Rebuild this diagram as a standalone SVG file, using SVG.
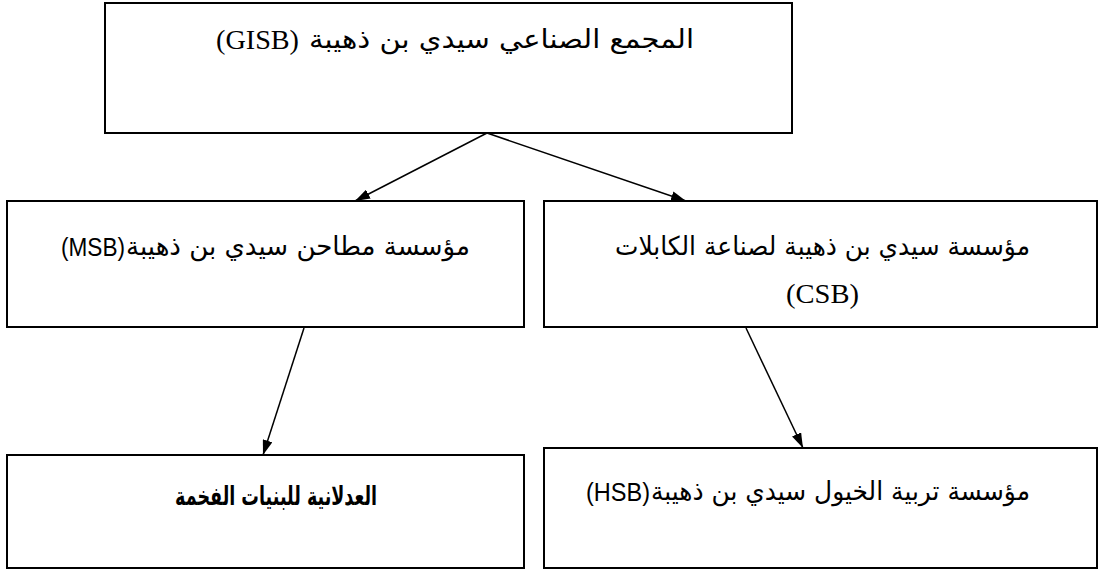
<svg xmlns="http://www.w3.org/2000/svg" width="1105" height="573" viewBox="0 0 1105 573">
<style>
.box{fill:#fff;stroke:#000;stroke-width:2}
.ar{font-family:"DejaVu Sans","Noto Sans",sans-serif;font-size:26px;fill:#000}
.ls{font-family:"Liberation Serif",serif;font-size:28px;fill:#000}
.ss{font-family:"Liberation Sans",sans-serif;font-size:25px;fill:#000}
.c{stroke:#000;stroke-width:1.5;fill:none;marker-end:url(#ah)}
</style>
<defs>
<marker id="ah" viewBox="0 0 15 10" refX="15" refY="5" markerWidth="15" markerHeight="10" markerUnits="userSpaceOnUse" orient="auto">
<path d="M0,0 L15,5 L0,10 Z" fill="#000"/>
</marker>
</defs>
<rect width="1105" height="573" fill="#fff"/>
<g id="connectors">
<line class="c" x1="487" y1="133" x2="355" y2="201"/>
<line class="c" x1="487" y1="133" x2="686" y2="201"/>
<line class="c" x1="304" y1="328" x2="263" y2="455"/>
<line class="c" x1="746" y1="328" x2="803" y2="448"/>
</g>
<g id="gisb">
<rect class="box" x="105" y="3" width="687" height="130"/>
<text class="ls" x="216" y="49" textLength="83" lengthAdjust="spacingAndGlyphs">(GISB)</text>
<text class="ar" x="309" y="48" textLength="385" lengthAdjust="spacingAndGlyphs">المجمع الصناعي سيدي بن ذهيبة</text>
</g>
<g id="msb">
<rect class="box" x="7" y="201" width="517" height="126"/>
<text class="ss" x="61" y="256" textLength="64" lengthAdjust="spacingAndGlyphs">(MSB)</text>
<text class="ar" x="126" y="255" textLength="344" lengthAdjust="spacingAndGlyphs">مؤسسة مطاحن سيدي بن ذهيبة</text>
</g>
<g id="csb">
<rect class="box" x="544" y="201" width="553" height="126"/>
<text class="ar" x="615" y="255" textLength="415" lengthAdjust="spacingAndGlyphs">مؤسسة سيدي بن ذهيبة لصناعة الكابلات</text>
<text class="ls" x="786" y="303" textLength="73" lengthAdjust="spacingAndGlyphs">(CSB)</text>
</g>
<g id="adlania">
<rect class="box" x="7" y="455" width="517" height="113"/>
<text class="ar" x="175" y="505" textLength="202" lengthAdjust="spacingAndGlyphs" font-weight="bold" font-size="23">العدلانية للبنيات الفخمة</text>
</g>
<g id="hsb">
<rect class="box" x="544" y="448" width="553" height="120"/>
<text class="ss" x="586" y="501" textLength="64" lengthAdjust="spacingAndGlyphs">(HSB)</text>
<text class="ar" x="651" y="500" textLength="379" lengthAdjust="spacingAndGlyphs">مؤسسة تربية الخيول سيدي بن ذهيبة</text>
</g>
</svg>
